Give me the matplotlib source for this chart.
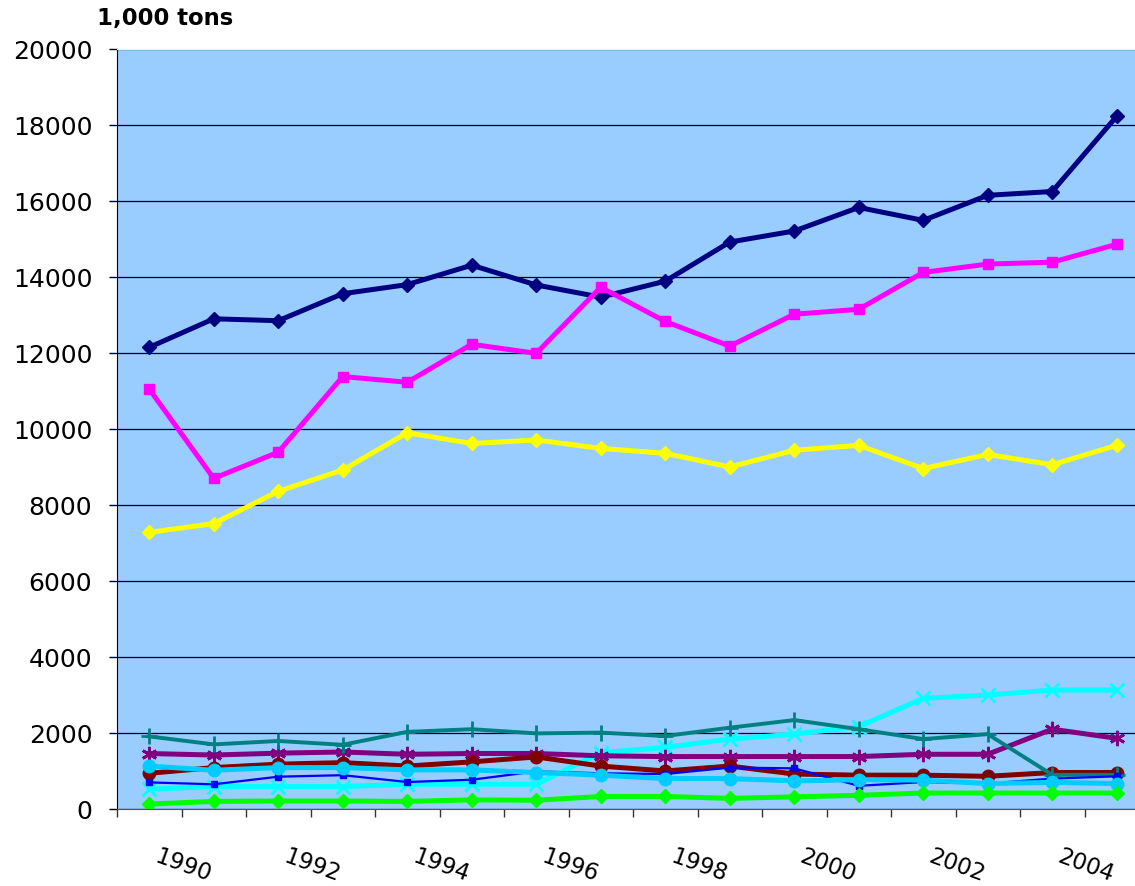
import numpy as np
import matplotlib.pyplot as plt
from matplotlib.transforms import ScaledTranslation

plt.rcParams['font.family'] = ['DejaVu Sans']

# years 1990-2005, values in 1,000 tons
years = [1990, 1991, 1992, 1993, 1994, 1995, 1996, 1997,
         1998, 1999, 2000, 2001, 2002, 2003, 2004, 2005]
year_labels = ['1990', '1992', '1994', '1996', '1998', '2000', '2002', '2004']

navy = [12150, 12900, 12850, 13560, 13800, 14310, 13790, 13470,
        13890, 14920, 15210, 15830, 15490, 16150, 16250, 18230]
magenta = [11050, 8700, 9390, 11380, 11230, 12230, 11990, 13730,
           12830, 12180, 13020, 13150, 14120, 14340, 14390, 14860]
yellow = [7280, 7510, 8360, 8920, 9900, 9620, 9710, 9490,
          9360, 9000, 9440, 9570, 8960, 9330, 9060, 9570]
cyan = [520, 590, 590, 590, 650, 650, 650, 1480,
        1620, 1840, 1970, 2170, 2910, 3000, 3130, 3130]
purple = [1460, 1420, 1470, 1500, 1440, 1460, 1460, 1400,
          1380, 1380, 1380, 1380, 1440, 1440, 2100, 1860]
darkred = [940, 1090, 1180, 1220, 1130, 1240, 1370, 1130,
           1000, 1130, 920, 890, 890, 860, 960, 960]
teal = [1910, 1700, 1790, 1690, 2030, 2100, 1990, 2010,
        1920, 2140, 2340, 2100, 1840, 1970, 900, 900]
blue = [700, 650, 850, 890, 710, 770, 990, 940,
        920, 1090, 1070, 610, 710, 670, 800, 860]
skyblue = [1130, 1020, 1090, 1090, 1030, 1030, 960, 890,
           800, 800, 740, 770, 760, 670, 700, 670]
green = [130, 200, 210, 210, 200, 240, 230, 330,
         330, 280, 320, 360, 420, 420, 420, 420]

x = np.arange(len(years))

fig = plt.figure(figsize=(11.35, 8.87), dpi=100)
ax = fig.add_axes([117/1135, 1 - 810/887, 1032/1135, 760/887])
ax.set_facecolor('#99CCFF')

series = [
    (navy, '#000080', 'D', 7, 3.6),
    (magenta, '#FF00FF', 's', 7.5, 3.6),
    (yellow, '#FFFF00', 'D', 7, 3.6),
    (cyan, '#00FFFF', 'x', 10, 3.6),
    (purple, '#800080', (6, 2, 0), 11, 3.6),
    (darkred, '#800000', 'o', 9, 3.6),
    (teal, '#008080', '+', 11, 2.8),
    (blue, '#0000FF', 's', 4, 1.6),
    (skyblue, '#00CCFF', 'o', 9, 3.6),
    (green, '#00FF00', 'D', 7, 3.6),
]
for vals, col, mk, ms, lw in series:
    ax.plot(x, vals, color=col, lw=lw, marker=mk, ms=ms,
            mec=col, mew=2 if mk in ('x', '+') or isinstance(mk, tuple) else 1)

ax.set_xlim(-0.5, len(years) - 0.5)
ax.set_ylim(0, 20000)
ax.set_yticks(np.arange(0, 20001, 2000))
ax.yaxis.grid(True, color='black', lw=0.9)
ax.set_axisbelow(True)

# category boundaries carry the tick marks, labels sit on every other year
ax.set_xticks(np.arange(-0.5, len(years), 1), minor=True)
ax.set_xticks(x[::2], year_labels, rotation=-20, ha='left', va='top',
              rotation_mode='anchor', fontsize=16.5)
ax.tick_params(axis='x', which='major', length=0, pad=25)
ax.tick_params(axis='x', which='minor', length=5.5, width=1, color='#333333')
ax.tick_params(axis='y', length=5.8, width=1, labelsize=18, pad=12)
shift = ScaledTranslation(0.1, 0, fig.dpi_scale_trans)
for lab in ax.get_xticklabels():
    lab.set_transform(lab.get_transform() + shift)

ax.spines['right'].set_visible(False)
ax.spines['top'].set_color('#CCFFFF')
ax.spines['left'].set_color('black')
ax.spines['bottom'].set_color('#555555')

fig.text(97/1135, 1 - 7/887, '1,000 tons', fontsize=16.4, fontweight='bold',
         ha='left', va='top')

plt.savefig('out.png', dpi=100)
